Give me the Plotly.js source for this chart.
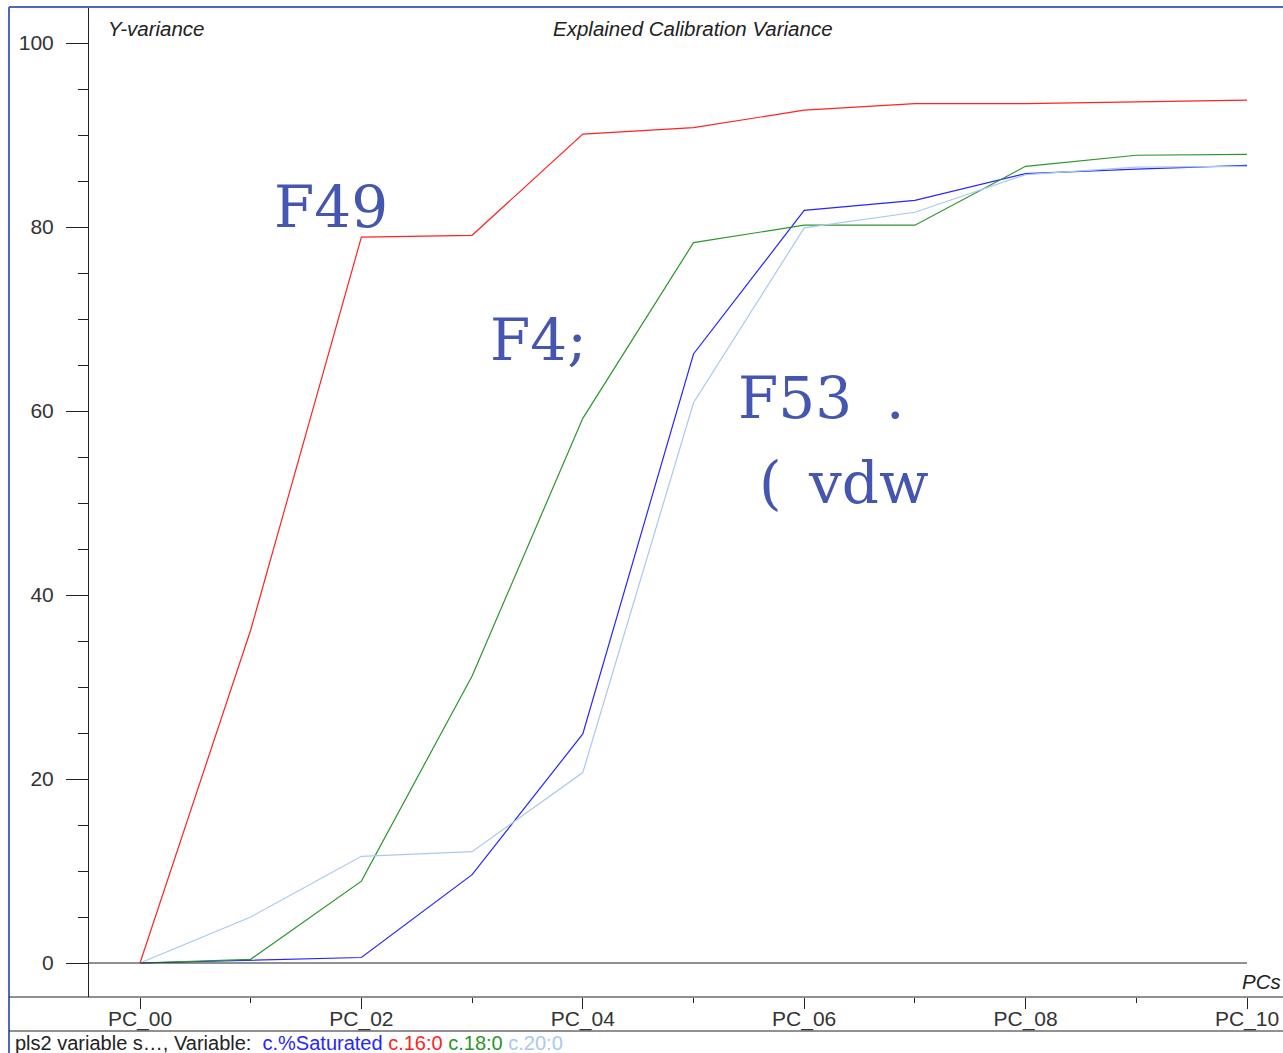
<!DOCTYPE html>
<html>
<head>
<meta charset="utf-8">
<script src="https://cdn.plot.ly/plotly-3.0.1.min.js"></script>
<style>
html,body{margin:0;padding:0;background:#fff;}
#chart{width:1283px;height:1053px;}
</style>
</head>
<body>
<div id="chart"></div>
<script>
// ---- data ----
const pcLabels = ['PC_00','PC_01','PC_02','PC_03','PC_04','PC_05','PC_06','PC_07','PC_08','PC_09','PC_10'];
const saturated = [0, 0.3, 0.6, 9.6, 24.9, 66.2, 81.8, 82.9, 85.8, 86.3, 86.7];
const c16_0 = [0, 36.2, 78.9, 79.1, 90.1, 90.8, 92.7, 93.4, 93.4, 93.6, 93.8];
const c18_0 = [0, 0.4, 8.9, 31.2, 59.2, 78.3, 80.2, 80.2, 86.6, 87.8, 87.9];
const c20_0 = [0, 5.0, 11.6, 12.1, 20.7, 60.9, 79.9, 81.6, 85.7, 86.5, 86.6];
const seriesNames = ['c.%Saturated', 'c.16:0', 'c.18:0', 'c.20:0'];
const yTicks = [0, 20, 40, 60, 80, 100];

// ---- layout helpers ----
const W = 1283, H = 1053;
const px = x => x / W;
const py = y => 1 - y / H;
const xIdx = pcLabels.map((_, i) => i);
const xRange = [-0.4607, 10.3252];
const yRange = [-3.696, 103.913];

const colors = ['#2626ff', '#ff2222', '#2a962a', '#a9c9ee'];
const seriesData = [saturated, c16_0, c18_0, c20_0];

const traces = seriesData.map((vals, k) => ({
  type: 'scatter', mode: 'lines', x: xIdx, y: vals, name: seriesNames[k],
  line: {color: colors[k], width: 1.2}, hoverinfo: 'x+y+name'
}));

const majorX = xIdx.filter(i => i % 2 === 0);
const minorX = xIdx.filter(i => i % 2 === 1);

const axisColor = '#222';
const tickFont = {family: 'Liberation Sans, Arial, sans-serif', size: 21, color: '#333'};
const bigFont = {family: 'DejaVu Serif, serif', size: 58, color: '#4556b0'};
const italicFont = {family: 'Liberation Sans, Arial, sans-serif', size: 20.5, color: '#222'};

const footer = 'pls2 variable s…, Variable:  ' +
  seriesNames.map((n, k) => `<span style="color:${colors[k]}">${n}</span>`).join(' ');

const layout = {
  width: W, height: H,
  margin: {l: 0, r: 0, t: 0, b: 0},
  paper_bgcolor: '#fff', plot_bgcolor: '#fff',
  showlegend: false,
  xaxis: {
    domain: [px(89), 1], range: xRange, showgrid: false, zeroline: false,
    showline: false, tickmode: 'array', tickvals: majorX,
    ticktext: majorX.map(i => pcLabels[i]),
    ticks: 'outside', ticklen: 11, tickcolor: axisColor, tickwidth: 1,
    tickfont: tickFont, ticklabelstandoff: -8,
    minor: {tickmode: 'array', tickvals: minorX, ticks: 'outside', ticklen: 5, tickcolor: axisColor}
  },
  yaxis: {
    domain: [py(997), py(7)], range: yRange, showgrid: false, zeroline: false,
    showline: true, linecolor: axisColor, linewidth: 1,
    tickmode: 'array', tickvals: yTicks, ticktext: yTicks.map(String),
    ticks: 'outside', ticklen: 22, tickcolor: axisColor, tickwidth: 1,
    tickfont: tickFont, ticklabelstandoff: 8,
    minor: {dtick: 5, ticks: 'outside', ticklen: 10, tickcolor: axisColor}
  },
  shapes: [
    {type: 'line', xref: 'paper', yref: 'paper', x0: px(9), x1: 1, y0: py(7), y1: py(7), line: {color: '#4a68bd', width: 2}},
    {type: 'line', xref: 'paper', yref: 'paper', x0: px(9), x1: px(9), y0: py(7), y1: 0, line: {color: '#4a68bd', width: 2}},
    {type: 'line', xref: 'paper', yref: 'paper', x0: px(9), x1: 1, y0: py(997), y1: py(997), line: {color: axisColor, width: 1}},
    {type: 'line', xref: 'paper', yref: 'paper', x0: px(9), x1: 1, y0: py(1031), y1: py(1031), line: {color: axisColor, width: 1}},
    {type: 'line', xref: 'x', yref: 'y', x0: xRange[0], x1: xIdx[xIdx.length - 1], y0: 0, y1: 0, line: {color: axisColor, width: 1}}
  ],
  annotations: [
    {xref: 'paper', yref: 'paper', x: px(106), y: py(28), xanchor: 'left', yanchor: 'middle', showarrow: false,
     text: '<i>Y-variance</i>', font: italicFont},
    {xref: 'paper', yref: 'paper', x: px(693), y: py(28), xanchor: 'center', yanchor: 'middle', showarrow: false,
     text: '<i>Explained Calibration Variance</i>', font: italicFont},
    {xref: 'paper', yref: 'paper', x: px(1283), y: py(981), xanchor: 'right', yanchor: 'middle', showarrow: false,
     text: '<i>PCs</i>', font: italicFont},
    {xref: 'paper', yref: 'paper', x: px(13), y: py(1043), xanchor: 'left', yanchor: 'middle', showarrow: false,
     text: footer, font: {family: 'Liberation Sans, Arial, sans-serif', size: 20, color: '#222'}},
    {xref: 'paper', yref: 'paper', x: px(272), y: py(207), xanchor: 'left', yanchor: 'middle', showarrow: false,
     text: 'F49', font: bigFont},
    {xref: 'paper', yref: 'paper', x: px(488), y: py(340), xanchor: 'left', yanchor: 'middle', showarrow: false,
     text: 'F4;', font: bigFont},
    {xref: 'paper', yref: 'paper', x: px(736), y: py(398), xanchor: 'left', yanchor: 'middle', showarrow: false,
     text: 'F53', font: bigFont},
    {xref: 'paper', yref: 'paper', x: px(895), y: py(398), xanchor: 'center', yanchor: 'middle', showarrow: false,
     text: '.', font: bigFont},
    {xref: 'paper', yref: 'paper', x: px(770), y: py(483), xanchor: 'center', yanchor: 'middle', showarrow: false,
     text: '(', font: bigFont},
    {xref: 'paper', yref: 'paper', x: px(806), y: py(483), xanchor: 'left', yanchor: 'middle', showarrow: false,
     text: 'vdw', font: bigFont}
  ]
};

Plotly.newPlot('chart', traces, layout, {displayModeBar: false, staticPlot: false});
</script>
</body>
</html>
